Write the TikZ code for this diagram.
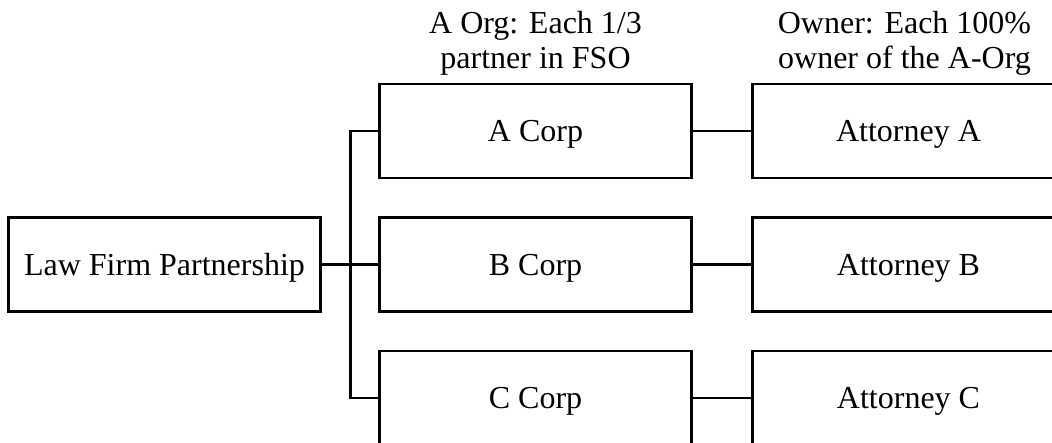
\documentclass[tikz,border=0pt]{standalone}
\usepackage{fontspec}
\setmainfont{Liberation Serif}
\usetikzlibrary{positioning}

\begin{document}
\begin{tikzpicture}[
  font=\fontsize{32}{35}\selectfont,
  line width=2.6pt,
  box/.style={draw,minimum height=94pt,minimum width=312pt,align=center,inner sep=0pt,text depth=0pt},
  head/.style={align=center,inner sep=3pt},
]
\path[use as bounding box,clip] (0,0) rectangle (1052pt,-443pt);
\node[box] (law) at (164.5pt,-264.5pt) {Law Firm Partnership};
\node[box,right=56.4pt of law] (bcorp) {B Corp};
\node[box,above=37pt of bcorp] (acorp) {A Corp};
\node[box,below=37pt of bcorp] (ccorp) {C Corp};
\node[box,right=58.4pt of acorp] (atta) {Attorney A};
\node[box,right=58.4pt of bcorp] (attb) {Attorney B};
\node[box,right=58.4pt of ccorp] (attc) {Attorney C};
\node[head,above=3pt of acorp] (orghead) {A Org: Each 1/3\\partner in FSO};
\node[head,above=3pt of atta,xshift=-4pt] (ownhead) {Owner: Each 100\%\\owner of the A-Org};
\draw (law.east) -- (bcorp.west);
\draw (acorp.west) -- ++(-27.7pt,0) |- (ccorp.west);
\draw (acorp) -- (atta);
\draw (bcorp) -- (attb);
\draw (ccorp) -- (attc);
\end{tikzpicture}
\end{document}
